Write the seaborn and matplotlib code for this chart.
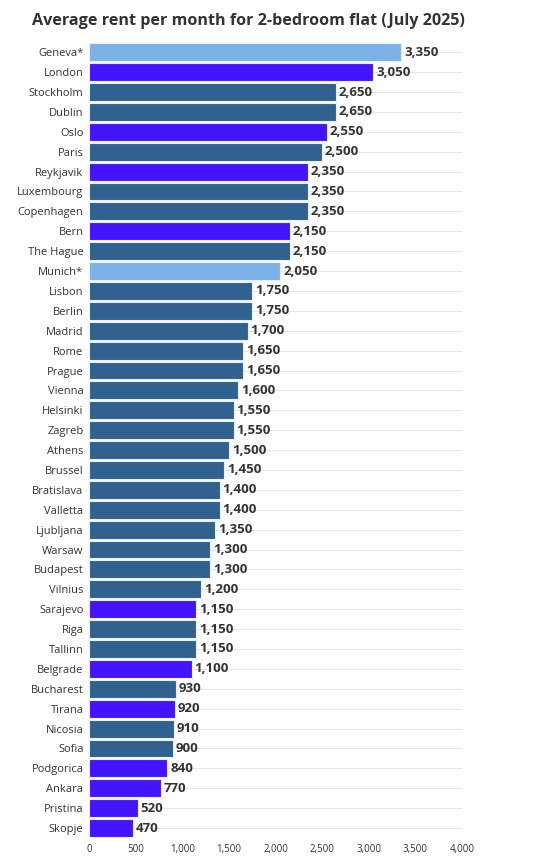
import matplotlib
matplotlib.use("Agg")
import matplotlib.pyplot as plt
import pandas as pd
import seaborn as sns
from matplotlib.ticker import FuncFormatter

sns.set_style("white")
plt.rcParams["font.family"] = ["Open Sans", "DejaVu Sans"]

cities = [
    "Geneva*", "London", "Stockholm", "Dublin", "Oslo", "Paris", "Reykjavik",
    "Luxembourg", "Copenhagen", "Bern", "The Hague", "Munich*", "Lisbon",
    "Berlin", "Madrid", "Rome", "Prague", "Vienna", "Helsinki", "Zagreb",
    "Athens", "Brussel", "Bratislava", "Valletta", "Ljubljana", "Warsaw",
    "Budapest", "Vilnius", "Sarajevo", "Riga", "Tallinn", "Belgrade",
    "Bucharest", "Tirana", "Nicosia", "Sofia", "Podgorica", "Ankara",
    "Pristina", "Skopje",
]
rent = [
    3350, 3050, 2650, 2650, 2550, 2500, 2350, 2350, 2350, 2150, 2150, 2050,
    1750, 1750, 1700, 1650, 1650, 1600, 1550, 1550, 1500, 1450, 1400, 1400,
    1350, 1300, 1300, 1200, 1150, 1150, 1150, 1100, 930, 920, 910, 900, 840,
    770, 520, 470,
]
# group: "eu" = EU / EEA style, "non" = non-EU, "star" = starred cities
group = [
    "star", "non", "eu", "eu", "non", "eu", "non", "eu", "eu", "non", "eu",
    "star", "eu", "eu", "eu", "eu", "eu", "eu", "eu", "eu", "eu", "eu", "eu",
    "eu", "eu", "eu", "eu", "eu", "non", "eu", "eu", "non", "eu", "non", "eu",
    "eu", "non", "non", "non", "non",
]
palette = {"eu": "#30618f", "non": "#4514ff", "star": "#7db2e8"}

df = pd.DataFrame({"City": cities, "Rent": rent, "Group": group})

fig, ax = plt.subplots(figsize=(5.43, 8.63), dpi=100)
fig.subplots_adjust(left=0.164, right=0.851, top=0.951, bottom=0.029)

sns.barplot(
    data=df, x="Rent", y="City", hue="Group", palette=palette,
    dodge=False, legend=False, width=0.9, saturation=1,
    edgecolor="#e6f0fa", linewidth=0.8, ax=ax, zorder=2,
)

for i, v in enumerate(rent):
    ax.text(v + 30, i, f"{v:,}", va="center", ha="left", fontsize=9.5,
            fontweight="bold", color="#333333", zorder=3)

ax.set_xlim(0, 4000)
ax.set_xticks(range(0, 4001, 500))
ax.xaxis.set_major_formatter(FuncFormatter(lambda x, _: f"{int(x):,}"))
ax.set_xlabel("")
ax.set_ylabel("")
ax.grid(axis="y", color="#e6e6e6", linewidth=0.8, zorder=0)
ax.grid(axis="x", visible=False)
for s in ax.spines.values():
    s.set_visible(False)
ax.tick_params(axis="y", length=0, labelsize=8, labelcolor="#333333", pad=4)
ax.tick_params(axis="x", length=0, labelsize=7, labelcolor="#333333", pad=4)

fig.suptitle("Average rent per month for 2-bedroom flat (July 2025)",
             x=0.457, y=0.985, fontsize=11.6, fontweight="bold",
             color="#333333")

fig.savefig("out.png", dpi=100)
